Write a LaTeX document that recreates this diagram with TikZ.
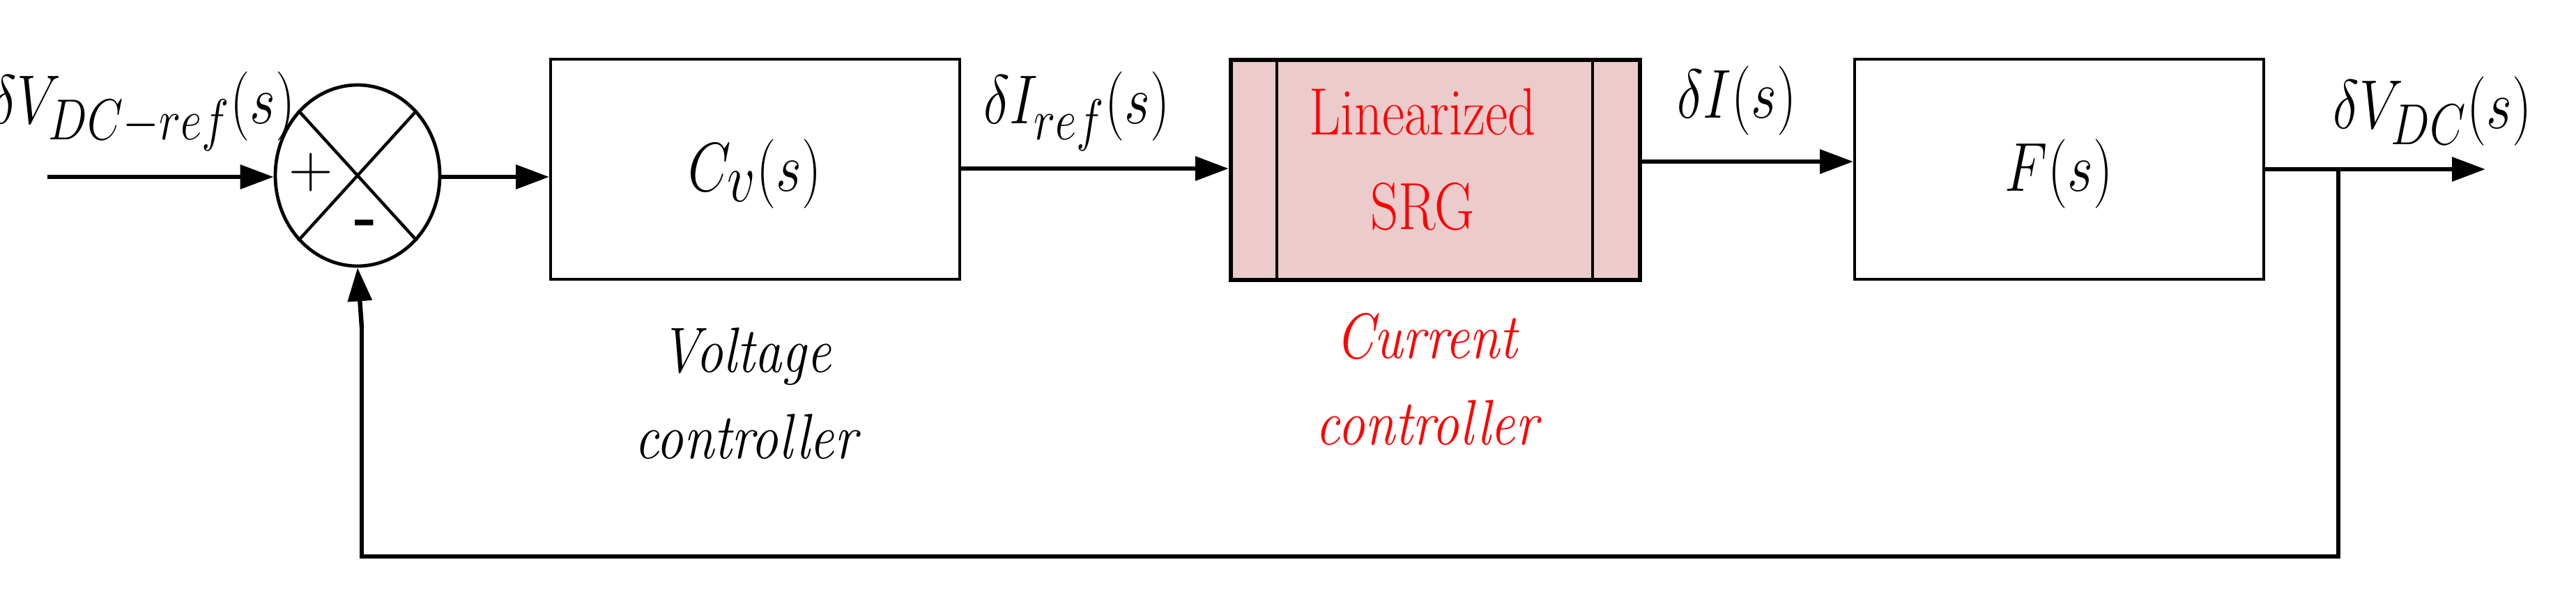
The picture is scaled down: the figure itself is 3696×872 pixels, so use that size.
\documentclass[tikz,border=0pt]{standalone}
\usetikzlibrary{arrows.meta,shapes.geometric}
\definecolor{srgfill}{HTML}{EBCBCB}
\begin{document}
\begin{tikzpicture}[x=0.25pt,y=-0.25pt,
  blk/.style={draw,line width=1pt,minimum width=146.75pt,minimum height=79pt,inner sep=0pt},
  sig/.style={line width=1.6pt,-{Triangle[length=12pt,width=8.5pt]}},
  fb/.style={line width=1.4pt},
  lbl/.style={font=\fontsize{28}{34}\selectfont,xscale=0.8,inner sep=0pt},
  big/.style={font=\fontsize{46}{50}\selectfont,xscale=0.8,inner sep=0pt},
  captxt/.style={font=\fontsize{23}{31}\selectfont\itshape,xscale=0.85,align=center,inner sep=0pt}]
\useasboundingbox (0,0) rectangle (3696,872);
% summing junction
\node[draw,ellipse,line width=1.2pt,minimum width=59pt,minimum height=65pt,inner sep=0pt] (sum) at (513,252) {};
\draw[line width=1.1pt] (sum.north west) -- (sum.south east) (sum.north east) -- (sum.south west);
\node[font=\fontsize{22}{22}\selectfont] (plus) at (446,248) {+};
\node[font=\fontsize{22}{22}\selectfont\bfseries] (minus) at (525,328) {-};
% blocks
\node[blk] (cv) at (1083.5,243) {};
\node[big] (cvt) at (1083,250) {$C_{v}(s)$};
\node[blk,fill=srgfill,line width=1.6pt,minimum width=146.75pt] (srg) at (2059.5,244) {};
\draw[line width=1pt] (1832,85) -- (1832,403) (2285,85) -- (2285,403);
\node[font=\fontsize{24}{34}\selectfont,text=red,xscale=0.82,align=center,inner sep=0pt] (srgt) at (2041,229) {Linearized\\SRG};
\node[blk] (f) at (2954.5,243) {};
\node[big] (ft) at (2954,250) {$F(s)$};
% signals
\coordinate (in) at (68,254);
\draw[sig] (in) -- (sum.west |- in);
\draw[sig] (sum.east |- 0,254) -- (cv.west |- 0,254);
\draw[sig] (cv.east |- 0,242) -- (srg.west |- 0,242);
\draw[sig] (srg.east |- 0,232) -- (f.west |- 0,232);
\coordinate (out) at (3566,243);
\coordinate (br) at (3355,243);
\draw[sig] (f.east |- out) -- (out);
\coordinate (c1) at (3355,799);
\coordinate (c2) at (519,799);
\draw[fb] (br) -- (c1) -- (c2) -- ++(0,-330);
\draw[sig] (519,470) -- (sum.south);
% labels
\node[lbl] (l1) at (205,160) {$\delta V_{DC-ref}(s)$};
\node[lbl] (l2) at (1545,160) {$\delta I_{ref}(s)$};
\node[lbl] (l3) at (2492,145) {$\delta I(s)$};
\node[lbl] (l4) at (3490,160) {$\delta V_{DC}(s)$};
\node[captxt] (vc) at (1070,565) {Voltage\\controller};
\node[captxt,text=red] (cc) at (2047,545) {Current\\controller};
\end{tikzpicture}
\end{document}
